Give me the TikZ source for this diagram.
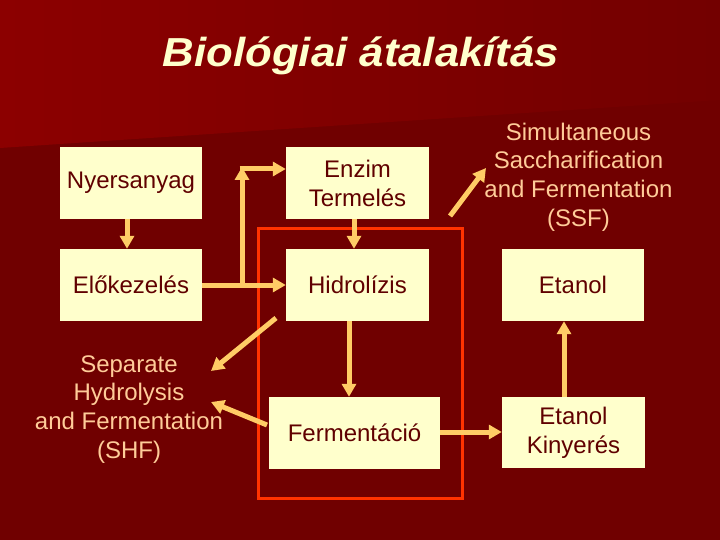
\documentclass[tikz,border=0pt]{standalone}
\usepackage{fontspec}
\setmainfont{Liberation Sans}
\newfontfamily\titlefont[FakeStretch=1.08]{Liberation Sans}
\usetikzlibrary{arrows.meta}
\definecolor{bgdark}{HTML}{700000}
\definecolor{bgtopL}{HTML}{8C0000}
\definecolor{bgtopR}{HTML}{730000}
\definecolor{boxfill}{HTML}{FFFFCC}
\definecolor{boxtext}{HTML}{600000}
\definecolor{arrowcol}{HTML}{FFCC66}
\definecolor{labelcol}{HTML}{FFCC99}
\definecolor{framecol}{HTML}{FF3300}
\tikzset{
  box/.style={draw=none, fill=boxfill, text=boxtext, align=center, inner sep=0pt,
    font=\fontsize{24}{29}\selectfont},
  lbl/.style={text=labelcol, align=center, inner sep=0pt, font=\fontsize{24}{28.7}\selectfont},
  arr/.style={draw=arrowcol, line width=5pt, -{Triangle[length=13pt,width=14pt]}},
}
\begin{document}
\begin{tikzpicture}[x=1pt,y=-1pt]
\useasboundingbox (0,0) rectangle (720,540);
\fill[bgdark] (0,0) rectangle (720,540);
\shade[left color=bgtopL, right color=bgtopR] (0,0) -- (720,0) -- (720,100) -- (0,148) -- cycle;
\node[anchor=base, text=boxfill, font=\titlefont\fontsize{40.5}{48}\selectfont\bfseries\itshape] (title) at (361,67) {Biológiai átalakítás};

\draw[framecol, line width=3pt] (258,229) rectangle (462,498);

\node[box, minimum width=142pt, minimum height=72pt] (nyers) at (131,183) {Nyersanyag};
\node[box, minimum width=143pt, minimum height=72pt] (enzim) at (357.5,183) {Enzim\\Termelés};
\node[box, minimum width=142pt, minimum height=72pt] (elok) at (131,285) {Előkezelés};
\node[box, minimum width=143pt, minimum height=72pt] (hidro) at (357.5,285) {Hidrolízis};
\node[box, minimum width=171pt, minimum height=72pt] (ferm) at (354.5,433) {Fermentáció};
\node[box, minimum width=142pt, minimum height=72pt] (etanol) at (573,285) {Etanol};
\node[box, minimum width=143pt, minimum height=71pt] (kiny) at (573.5,432.5) {Etanol\\Kinyerés};

\node[lbl] (shf) at (129,409.3) {Separate\\Hydrolysis\\and Fermentation\\(SHF)};
\node[lbl] (ssf) at (578.5,177) {Simultaneous\\Saccharification\\and Fermentation\\(SSF)};

\coordinate (branch) at (242,285);
\coordinate (corner) at (242,169);
\coordinate (shfA) at (211,371);
\coordinate (shfB) at (211,402);
\coordinate (ssfA) at (486,168);
\coordinate (hidA) at (276,318);
\coordinate (hidB) at (450,216);
\coordinate (fermA) at (267,425);

\draw[arr] (nyers.south -| 127,0) -- (elok.north -| 127,0);
\draw[arr] (elok.east) -- (hidro.west);
\draw[arr] (branch) -- ([yshift=2pt]corner);
\draw[arr] ([xshift=-2.5pt]corner) -- (enzim.west |- corner);
\draw[arr] (enzim.south -| 354,0) -- (hidro.north -| 354,0);
\draw[arr] (hidro.south -| 349,0) -- (ferm.north -| 349,0);
\draw[arr] (ferm.east |- 0,432) -- (kiny.west |- 0,432);
\draw[arr] (kiny.north -| 564,0) -- (etanol.south -| 564,0);
\draw[arr] (hidA) -- (shfA);
\draw[arr] (fermA) -- (shfB);
\draw[arr] (hidB) -- (ssfA);
\end{tikzpicture}
\end{document}
